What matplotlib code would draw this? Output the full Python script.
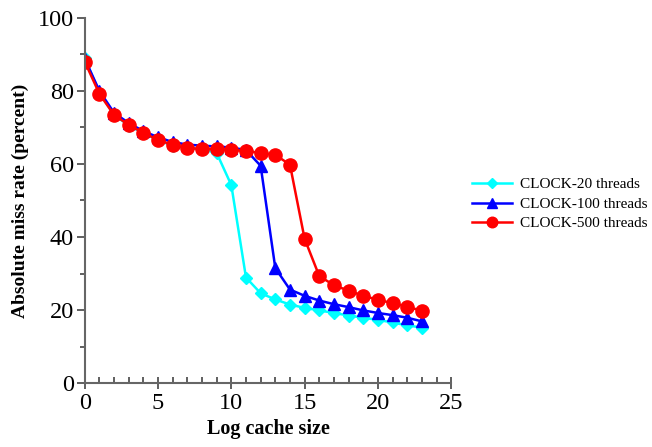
import matplotlib.pyplot as plt

plt.rcParams["font.family"] = ["Liberation Serif", "DejaVu Serif"]

# Log cache size (x) and absolute miss rate in percent (y)
cache_size = list(range(24))
clock_20 = [89.0, 79.5, 73.5, 70.5, 68.5, 66.5, 65.0, 64.3, 64.0, 63.0,
            54.2, 28.9, 24.6, 22.9, 21.5, 20.6, 19.9, 19.2, 18.5, 17.9,
            17.3, 16.6, 15.8, 15.2]
clock_100 = [88.8, 80.0, 74.0, 71.2, 69.0, 67.3, 66.0, 65.3, 65.0, 64.8,
             64.5, 63.8, 59.5, 31.5, 25.6, 23.9, 22.6, 21.6, 20.8, 19.9,
             19.2, 18.6, 17.9, 16.9]
clock_500 = [88.0, 79.2, 73.4, 70.7, 68.5, 66.6, 65.2, 64.4, 64.1, 64.1,
             63.8, 63.6, 63.0, 62.5, 59.8, 39.5, 29.3, 26.8, 25.3, 23.9,
             22.8, 21.9, 20.9, 19.8]

fig = plt.figure(figsize=(6.52, 4.47), dpi=100)
ax = fig.add_axes([0.130, 0.143, 0.562, 0.817])

ax.plot(cache_size, clock_20, color="#00ffff", marker="D", markersize=6.5,
        linewidth=1.8, label="CLOCK-20 threads")
ax.plot(cache_size, clock_100, color="#0000ff", marker="^", markersize=8.5,
        linewidth=1.8, label="CLOCK-100 threads")
ax.plot(cache_size, clock_500, color="#ff0000", marker="o", markersize=9.5,
        linewidth=1.8, label="CLOCK-500 threads")

ax.set_xlim(0, 25)
ax.set_ylim(0, 100)
ax.set_xticks(range(0, 26, 5))
ax.set_xticks(range(0, 26), minor=True)
ax.set_yticks(range(0, 101, 20))
ax.set_yticks(range(10, 100, 20), minor=True)

for side in ["top", "right"]:
    ax.spines[side].set_visible(False)
for side in ["left", "bottom"]:
    ax.spines[side].set_color("#666666")
    ax.spines[side].set_linewidth(1.5)

ax.tick_params(axis="x", which="major", direction="inout", length=8,
               width=1.2, color="#444444", labelsize=17.5, pad=3)
ax.tick_params(axis="x", which="minor", direction="in", length=4,
               width=1.2, color="#444444")
ax.tick_params(axis="y", which="major", direction="out", length=6,
               width=1.2, color="#444444", labelsize=17.5, pad=2)
ax.tick_params(axis="y", which="minor", direction="out", length=3.5,
               width=1.2, color="#444444")

ax.set_xlabel("Log cache size", fontsize=14.5, fontweight="bold", labelpad=4)
ax.set_ylabel("Absolute miss rate (percent)", fontsize=14, fontweight="bold",
              labelpad=6)

leg = ax.legend(loc="center left", bbox_to_anchor=(1.02, 0.49), frameon=False,
                fontsize=11, handlelength=2.6, markerscale=0.8,
                labelspacing=0.38, handletextpad=0.5)

fig.savefig("out.png", dpi=100)
